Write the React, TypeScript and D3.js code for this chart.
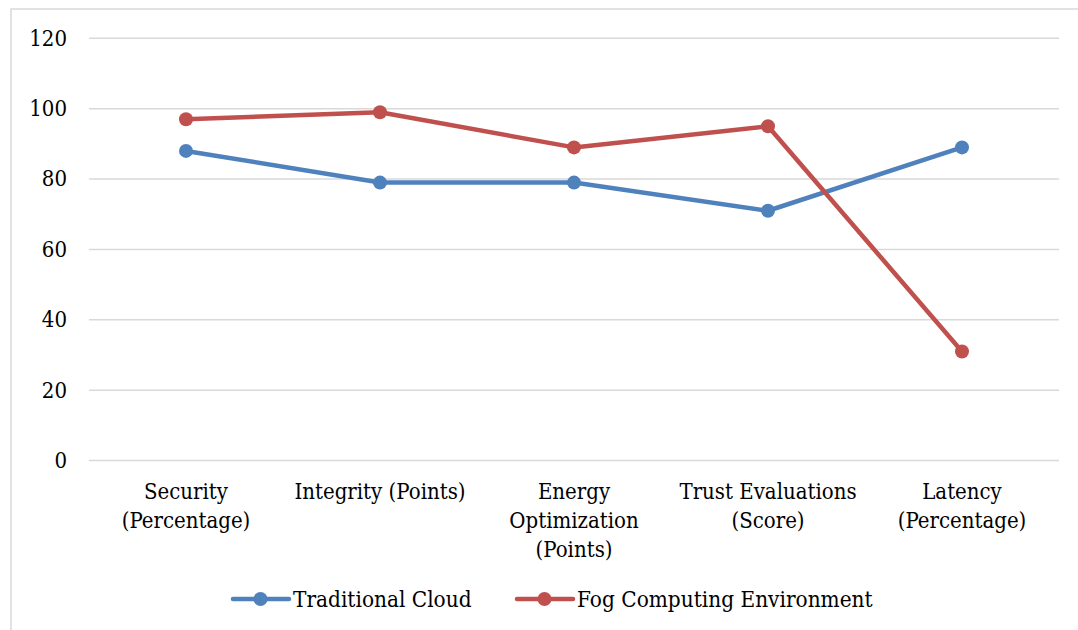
import React from "react";
import * as d3 from "d3";

const categories: string[][] = [
  ["Security", "(Percentage)"],
  ["Integrity (Points)"],
  ["Energy", "Optimization", "(Points)"],
  ["Trust Evaluations", "(Score)"],
  ["Latency", "(Percentage)"],
];
const traditionalCloud = [88, 79, 79, 71, 89];
const fogComputing = [97, 99, 89, 95, 31];
const yTicks = [0, 20, 40, 60, 80, 100, 120];
const seriesNames = ["Traditional Cloud", "Fog Computing Environment"];
const seriesColors = ["#4F81BD", "#C0504D"];

const W = 1078;
const H = 630;
const plot = { left: 89, right: 1059, top: 38.3, bottom: 460.6 };
const FONT = "'DejaVu Serif', serif";
const SX = 0.9;

export default function App() {
  const keys = categories.map((_, i) => String(i));
  const x = d3.scaleBand<string>().domain(keys).range([plot.left, plot.right]);
  const y = d3.scaleLinear().domain([0, 120]).range([plot.bottom, plot.top]);
  const cx = (i: number) => (x(String(i)) as number) + x.bandwidth() / 2;
  const line = d3
    .line<number>()
    .x((_, i) => cx(i))
    .y((d) => y(d));
  const series = [traditionalCloud, fogComputing];

  const legendItems = [
    { lx: 233, tx: 293 },
    { lx: 517, tx: 577 },
  ];

  return (
    <svg
      width={W}
      height={H}
      style={{ position: "absolute", left: 0, top: 0, background: "#fff" }}
      fontFamily={FONT}
    >
      <rect x={11} y={9} width={W + 20} height={H + 20} fill="#fff" stroke="#d9d9d9" strokeWidth={1.5} />
      {yTicks.map((t) => (
        <g key={t}>
          <line x1={plot.left} x2={plot.right} y1={y(t)} y2={y(t)} stroke="#d9d9d9" strokeWidth={1.5} />
          <g transform={`translate(67,${y(t)}) scale(${SX},1)`}>
            <text x={0} y={0} textAnchor="end" dominantBaseline="central" fontSize={22} fill="#000">
              {t}
            </text>
          </g>
        </g>
      ))}
      {categories.map((lines, i) => (
        <g key={i} transform={`translate(${cx(i)},499) scale(${SX},1)`}>
          {lines.map((l, j) => (
            <text key={j} x={0} y={j * 29} textAnchor="middle" fontSize={22} fill="#000">
              {l}
            </text>
          ))}
        </g>
      ))}
      {series.map((s, si) => (
        <g key={si}>
          <path d={line(s) || ""} fill="none" stroke={seriesColors[si]} strokeWidth={4.5} strokeLinejoin="round" strokeLinecap="round" />
          {s.map((v, i) => (
            <circle key={i} cx={cx(i)} cy={y(v)} r={7} fill={seriesColors[si]} />
          ))}
        </g>
      ))}
      {seriesNames.map((name, si) => {
        const it = legendItems[si];
        return (
          <g key={si}>
            <line x1={it.lx} x2={it.lx + 56} y1={599} y2={599} stroke={seriesColors[si]} strokeWidth={4.5} strokeLinecap="round" />
            <circle cx={it.lx + 27.5} cy={599} r={7} fill={seriesColors[si]} />
            <g transform={`translate(${it.tx},606.5) scale(0.915,1)`}>
              <text x={0} y={0} fontSize={22} fill="#000">
                {name}
              </text>
            </g>
          </g>
        );
      })}
    </svg>
  );
}
